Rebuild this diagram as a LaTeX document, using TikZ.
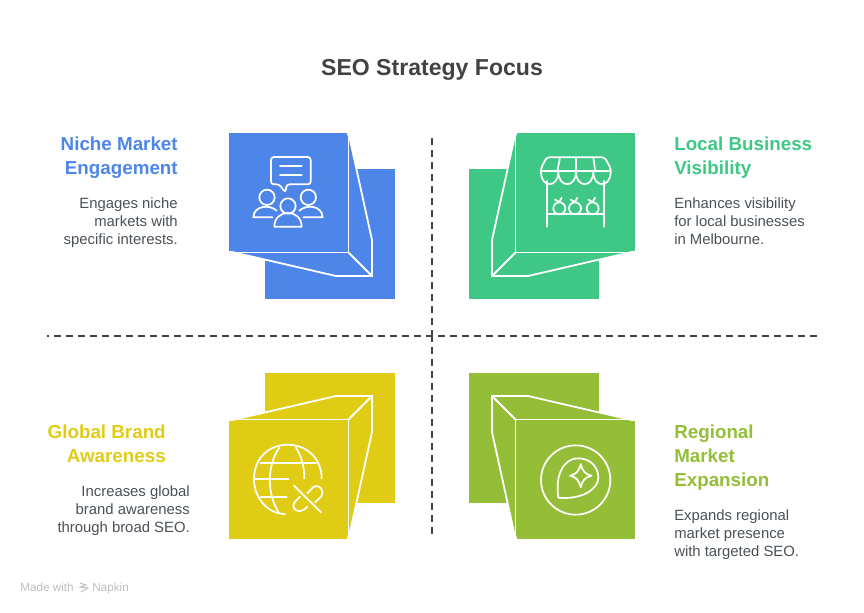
\documentclass[tikz,border=0pt]{standalone}
\usepackage{fontspec}
\setmainfont{Liberation Sans}
\usetikzlibrary{positioning}
\definecolor{nicheBlue}{HTML}{4D86E8}
\definecolor{localGreen}{HTML}{3EC785}
\definecolor{globalGold}{HTML}{E0CC14}
\definecolor{regionOlive}{HTML}{94BD38}
\definecolor{titleGrey}{HTML}{424242}
\definecolor{bodyGrey}{HTML}{4A5058}
\definecolor{footGrey}{HTML}{BDBDBD}
\tikzset{
  headText/.style={font=\fontsize{14.1}{18}\selectfont\bfseries},
  bodyText/.style={font=\fontsize{11.15}{13.5}\selectfont,text=bodyGrey},
  leftText/.style={align=right,anchor=north east,inner sep=0pt},
  rightText/.style={align=left,anchor=north west,inner sep=0pt},
  footText/.style={font=\fontsize{8.8}{10}\selectfont,text=footGrey,anchor=base west,inner sep=0pt},
  foldLine/.style={draw=white,line width=1.35pt,miter limit=20},
  iconLine/.style={draw=white,line width=1.3pt,line cap=round,line join=round},
  divider/.style={draw=titleGrey,line width=1.2pt,dash pattern=on 5pt off 4pt},
}
% folded box of the upper left quarter, the others are its mirror images
\newcommand{\foldbox}[3]{%
  \begin{scope}[shift={(432,336)},xscale=#2,yscale=#3,shift={(-432,-336)}]
    \fill[#1](265,169)rectangle(395,299);
    \path[fill=#1,foldLine](348.5,133)--(372,240)--(372,276)--(336,276)--(230,251.5)--cycle;
    \draw[foldLine](348.5,133)--(348.5,252.5)--(229,252.5);
    \draw[foldLine](348.5,252.5)--(372,276);
    \fill[#1](229,133)rectangle(347,251);
  \end{scope}}
\begin{document}
\begin{tikzpicture}[x=.75pt,y=-.75pt]
  \useasboundingbox(0,0)rectangle(864,612);
  \foldbox{nicheBlue}{1}{1}
  \foldbox{localGreen}{-1}{1}
  \foldbox{globalGold}{1}{-1}
  \foldbox{regionOlive}{-1}{-1}
  % dividers
  \coordinate(vTop)at(432,138);
  \coordinate(vMid)at(432,336);
  \coordinate(vBot)at(432,534);
  \coordinate(hLeft)at(47,336);
  \coordinate(hRight)at(817,336);
  \draw[divider](vTop)--(vMid);
  \draw[divider](vBot)--(vMid);
  \draw[divider](hRight)--(hLeft);
  % texts
  \node[font=\fontsize{17.3}{22}\selectfont\bfseries,text=titleGrey,inner sep=0pt](titleText)at(432,70){SEO Strategy Focus};
  \node[headText,leftText,text=nicheBlue](nicheHead)at(178,137){Niche Market\\Engagement};
  \node[bodyText,leftText](nicheBody)at(178,197){Engages niche\\markets with\\specific interests.};
  \node[headText,rightText,text=localGreen](localHead)at(674,137){Local Business\\Visibility};
  \node[bodyText,rightText](localBody)at(674,197){Enhances visibility\\for local businesses\\in Melbourne.};
  \node[headText,leftText,text=globalGold](globalHead)at(166,425){Global Brand\\Awareness};
  \node[bodyText,leftText](globalBody)at(190,485){Increases global\\brand awareness\\through broad SEO.};
  \node[headText,rightText,text=regionOlive](regionHead)at(674,425){Regional\\Market\\Expansion};
  \node[bodyText,rightText](regionBody)at(674,509){Expands regional\\market presence\\with targeted SEO.};
  \node[footText](madeText)at(20,591){Made with};
  \node[footText](napkinText)at(92,591){Napkin};
  \draw[footGrey,line width=.7pt](80,583)--(86,585)--(80,587)--(88,588)--(81,592);
  % people icon
  \begin{scope}[xshift=165pt,yshift=-93.75pt,x=.25pt,y=-.25pt]
    \draw[iconLine,rounded corners=2.2pt](178,178)--(153,178)--(153,96)--(272,96)--(272,178)--(200,178)--(196,203)--cycle;
    \draw[iconLine](180,124)--(245,124);
    \draw[iconLine](180,151)--(245,151);
    \draw[iconLine](141,217)circle(23);
    \draw[iconLine](265,217)circle(23);
    \draw[iconLine](204,243)circle(23);
    \draw[iconLine](163,305)..controls(163,250)and(245,250)..(245,305)--cycle;
    \draw[iconLine](170,257)..controls(150,238)and(102,240)..(100,277)--(157,277);
    \draw[iconLine](238,257)..controls(258,238)and(306,240)..(308,277)--(250,277);
  \end{scope}
  % stall icon
  \begin{scope}[xshift=345pt,yshift=-93.75pt,x=.25pt,y=-.25pt]
    \draw[iconLine,rounded corners=2pt](243,140)--(243,130)--(260,97)--(434,97)--(452,130)--(452,140);
    \draw[iconLine](452,140)
      ..controls(452,190)and(400,190)..(400,140)
      ..controls(400,190)and(348,190)..(348,140)
      ..controls(348,190)and(295,190)..(295,140)
      ..controls(295,190)and(243,190)..(243,140);
    \draw[iconLine](243,137)--(452,137);
    \draw[iconLine](300,97)--(292,140);
    \draw[iconLine](348,97)--(348,140);
    \draw[iconLine](400,97)--(406,140);
    \draw[iconLine](262,168)--(262,305);
    \draw[iconLine](433,168)--(433,305);
    \draw[iconLine](262,267)--(433,267);
    \foreach \fx in {298,345,398}{
      \draw[iconLine](\fx,250)circle(18);
      \draw[iconLine](\fx-13,224)--(\fx,231)--(\fx+7,218);
    }
  \end{scope}
  % globe icon
  \begin{scope}[xshift=165pt,yshift=-273.75pt,x=.25pt,y=-.25pt]
    \draw[iconLine](305,340)..controls(302,205)and(102,205)..(102,343)
      ..controls(102,400)and(145,447)..(195,447);
    \draw[iconLine](122,294)--(288,294);
    \draw[iconLine](102,343)--(205,343);
    \draw[iconLine](122,397)--(200,397);
    \draw[iconLine](178,248)..controls(140,300)and(140,390)..(178,445);
    \draw[iconLine](228,248)..controls(245,275)and(253,305)..(253,340);
    \draw[iconLine](222,362)--(303,442);
    \draw[iconLine](262,385)--(278,368)..controls(295,352)and(320,380)..(300,398)--(285,412);
    \draw[iconLine](240,395)--(225,410)..controls(208,432)and(240,452)..(262,425);
  \end{scope}
  % leaf icon
  \begin{scope}[xshift=345pt,yshift=-273.75pt,x=.25pt,y=-.25pt]
    \draw[iconLine](347,345)circle(104);
    \draw[iconLine](295,398)..controls(285,330)and(310,280)..(355,280)
      ..controls(395,280)and(415,310)..(415,338)
      ..controls(415,375)and(360,405)..(295,398)--cycle;
    \draw[iconLine](362,297)..controls(368,320)and(375,327)..(395,332)
      ..controls(375,337)and(368,345)..(362,367)
      ..controls(356,345)and(350,337)..(330,332)
      ..controls(350,327)and(356,320)..(362,297)--cycle;
  \end{scope}
\end{tikzpicture}
\end{document}
